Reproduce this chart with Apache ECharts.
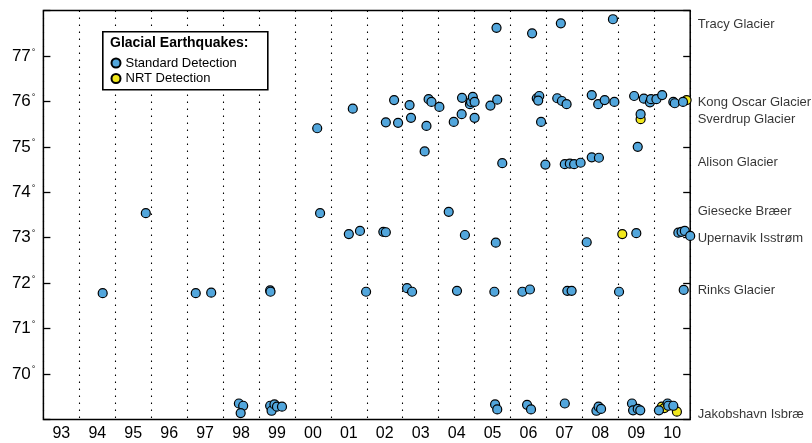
<!DOCTYPE html>
<html>
<head>
<meta charset="utf-8">
<script src="https://cdn.jsdelivr.net/npm/echarts@6/dist/echarts.min.js"></script>
<style>
  html, body { margin: 0; padding: 0; background: #fff; }
  #chart { width: 812px; height: 443px; }
</style>
</head>
<body>
<div id="chart"></div>
<script>
// Year labels shown centred under each year band
const yearLabels = ['93','94','95','96','97','98','99','00','01','02','03','04','05','06','07','08','09','10'];

// Glacier names on the right, placed at each glacier's latitude
const glacierNames = ['Tracy Glacier','Kong Oscar Glacier','Sverdrup Glacier','Alison Glacier',
  'Giesecke Bræer','Upernavik Isstrøm','Rinks Glacier','Jakobshavn Isbræ'];
const glacierLats = [77.70, 75.97, 75.61, 74.66, 73.57, 72.99, 71.83, 69.11];

// Standard detections: [decimal year, latitude]
const standardEvents = [
  [1994.65,71.78],[1995.85,73.54],[1997.24,71.78],[1997.67,71.79],
  [1998.44,69.35],[1998.56,69.30],[1998.49,69.14],
  [1999.31,71.84],[1999.32,71.81],
  [1999.31,69.30],[1999.35,69.19],[1999.43,69.33],[1999.50,69.28],[1999.64,69.28],
  [2000.62,75.41],[2000.70,73.54],
  [2001.50,73.08],[2001.61,75.84],[2001.81,73.15],[2001.98,71.81],
  [2002.46,73.13],[2002.53,73.12],[2002.53,75.54],[2002.76,76.03],[2002.87,75.53],
  [2003.12,71.89],[2003.19,75.92],[2003.23,75.64],[2003.26,71.81],[2003.61,74.90],
  [2003.66,75.46],[2003.72,76.05],[2003.80,75.99],
  [2004.02,75.88],[2004.28,73.57],[2004.42,75.55],[2004.51,71.83],[2004.64,75.72],
  [2004.65,76.08],[2004.73,73.06],[2004.87,75.94],[2004.90,75.99],[2004.95,76.10],
  [2005.00,75.99],[2005.00,75.64],
  [2005.44,75.91],[2005.55,71.81],[2005.57,69.33],[2005.59,72.89],[2005.61,77.62],
  [2005.63,76.04],[2005.63,69.22],[2005.77,74.64],
  [2006.33,71.81],[2006.46,69.32],[2006.54,71.86],[2006.57,69.22],[2006.60,77.50],
  [2006.73,76.07],[2006.80,76.12],[2006.77,76.02],[2006.85,75.55],[2006.97,74.61],
  [2007.30,76.07],[2007.40,77.72],[2007.43,76.01],[2007.51,69.35],[2007.51,74.62],
  [2007.56,75.94],[2007.58,71.83],[2007.65,74.63],[2007.70,71.83],[2007.77,74.62],
  [2007.95,74.65],
  [2008.12,72.90],[2008.26,76.14],[2008.26,74.77],[2008.39,69.19],[2008.44,75.94],
  [2008.45,69.28],[2008.46,74.76],[2008.52,69.23],[2008.62,76.03],[2008.85,77.81],
  [2008.89,75.99],
  [2009.02,71.81],[2009.38,69.35],[2009.41,69.20],[2009.44,76.12],[2009.50,73.10],
  [2009.54,75.00],[2009.54,69.23],[2009.61,69.20],[2009.62,75.72],[2009.71,76.06],
  [2009.88,75.98],[2009.91,76.05],
  [2010.06,76.05],[2010.13,69.20],[2010.22,76.14],[2010.37,69.35],[2010.39,69.30],
  [2010.53,69.30],[2010.53,75.99],[2010.57,75.96],[2010.67,73.11],[2010.76,73.13],
  [2010.80,75.99],[2010.82,71.85],[2010.85,73.15],[2011.00,73.04]
];

// Near-real-time detections: [decimal year, latitude]
const nrtEvents = [
  [2009.11,73.08],[2009.62,75.61],[2010.21,69.28],[2010.28,69.25],[2010.63,69.17],[2010.90,76.03]
];

const FONT = '"Liberation Sans", Arial, Helvetica, sans-serif';

const chart = echarts.init(document.getElementById('chart'), null, { renderer: 'canvas' });

const tickStyle = { show: true, inside: true, length: 7, lineStyle: { color: '#000', width: 1.3 } };

chart.setOption({
  animation: false,
  backgroundColor: '#fff',
  textStyle: { fontFamily: FONT },
  grid: {
    left: 43.4, right: 121.8, top: 10.6, bottom: 23.6,
    show: true, borderColor: '#000', borderWidth: 1.5, backgroundColor: 'transparent'
  },
  xAxis: [
    {
      type: 'value', min: 1993, max: 2011, interval: 1,
      axisLine: { show: false }, axisTick: { show: false }, axisLabel: { show: false },
      splitLine: { show: true, lineStyle: { color: '#000', width: 1.1, type: [1.3, 5.7] } }
    },
    {
      type: 'category', data: yearLabels, boundaryGap: true, position: 'bottom',
      axisLine: { show: false }, axisTick: { show: false }, splitLine: { show: false },
      axisLabel: { interval: 0, fontSize: 16, color: '#000', margin: 6, fontFamily: FONT }
    }
  ],
  yAxis: [
    {
      type: 'value', min: 69, max: 78, interval: 1, position: 'left',
      axisLine: { show: false }, axisTick: tickStyle, splitLine: { show: false },
      axisLabel: {
        margin: 8, color: '#000',
        formatter: v => (v === 69 || v === 78) ? '' : '{n|' + v + '}{d|°}',
        rich: {
          n: { fontSize: 17, color: '#000', fontFamily: FONT },
          d: { fontSize: 9, color: '#000', fontFamily: FONT, verticalAlign: 'top', padding: [0, 0, 8, 1] }
        }
      }
    },
    {
      type: 'value', min: 69, max: 78, interval: 1, position: 'right',
      axisLine: { show: false }, axisTick: tickStyle, splitLine: { show: false },
      axisLabel: { show: false }
    }
  ],
  legend: {
    data: ['Standard Detection', 'NRT Detection'],
    orient: 'vertical', left: 105.5, top: 51.5, z: 6,
    itemWidth: 9, itemHeight: 9, itemGap: 2.5, icon: 'circle',
    textStyle: { fontSize: 13, color: '#000', fontFamily: FONT }
  },
  graphic: [
    {
      type: 'rect', left: 102, top: 31, z: 5,
      shape: { width: 165, height: 58 },
      style: { fill: '#fff', stroke: '#000', lineWidth: 1.6 }
    },
    {
      type: 'text', left: 110, top: 36, z: 6,
      style: { text: 'Glacial Earthquakes:', font: 'bold 14px ' + FONT, fill: '#000' }
    }
  ],
  series: [
    {
      name: 'NRT Detection', type: 'scatter', data: nrtEvents,
      xAxisIndex: 0, yAxisIndex: 0, clip: false,
      symbol: 'circle', symbolSize: 9,
      itemStyle: { color: '#F1E81C', borderColor: '#000', borderWidth: 1.2, opacity: 1 }
    },
    {
      name: 'Standard Detection', type: 'scatter', data: standardEvents,
      xAxisIndex: 0, yAxisIndex: 0, clip: false,
      symbol: 'circle', symbolSize: 9,
      itemStyle: { color: '#52A6DC', borderColor: '#000', borderWidth: 1.2, opacity: 1 }
    },
    {
      name: 'glaciers', type: 'scatter', silent: true, clip: false,
      xAxisIndex: 0, yAxisIndex: 0,
      data: glacierNames.map((n, i) => ({ name: n, value: [2011, glacierLats[i]] })),
      symbolSize: 1, itemStyle: { color: 'rgba(0,0,0,0)' },
      label: { show: true, position: 'right', distance: 7, formatter: '{b}', fontSize: 13, color: '#000', fontFamily: FONT }
    }
  ]
});
</script>
</body>
</html>
